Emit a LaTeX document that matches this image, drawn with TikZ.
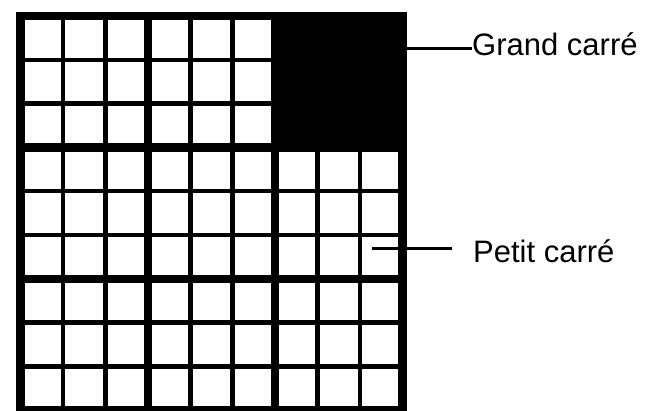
\documentclass[tikz,border=0pt]{standalone}
\usepackage{fontspec}
\setmainfont{Liberation Sans}
\begin{document}
\begin{tikzpicture}[x=1pt,y=-1pt,
  thickline/.style={line width=8.5pt,line cap=rect},
  thinline/.style={line width=4.5pt},
  label/.style={font=\fontsize{31}{36}\selectfont,inner sep=0pt,anchor=base west},
  leader/.style={line width=3pt}]
\fill[white] (0,0) rectangle (648,410);
\useasboundingbox (0,0) rectangle (648,410);
\def\xo{20.5}\def\dx{42.44}\def\yo{16}\def\dy{43.8}
% black big square
\fill[black] (\xo+6*\dx,\yo) rectangle (\xo+9*\dx,\yo+3*\dy);
% thin lines
\foreach \i in {1,2,4,5,7,8}{
  \draw[thinline] (\xo+\i*\dx,\yo) -- (\xo+\i*\dx,\yo+9*\dy);
  \draw[thinline] (\xo,\yo+\i*\dy) -- (\xo+9*\dx,\yo+\i*\dy);
}
% thick lines
\foreach \i in {0,3,6,9}{
  \draw[thickline] (\xo+\i*\dx,\yo) -- (\xo+\i*\dx,\yo+9*\dy);
  \draw[thickline] (\xo,\yo+\i*\dy) -- (\xo+9*\dx,\yo+\i*\dy);
}
% labels
\node[label] (grand) at (472,55) {Grand carré};
\node[label] (petit) at (473,262) {Petit carré};
\coordinate (g1) at (407,48.3);
\coordinate (p1) at (372,248);
\coordinate (p2) at (452,248);
\draw[leader] (g1) -- (g1 -| grand.west);
\draw[leader] (p1) -- (p2);
\end{tikzpicture}
\end{document}
